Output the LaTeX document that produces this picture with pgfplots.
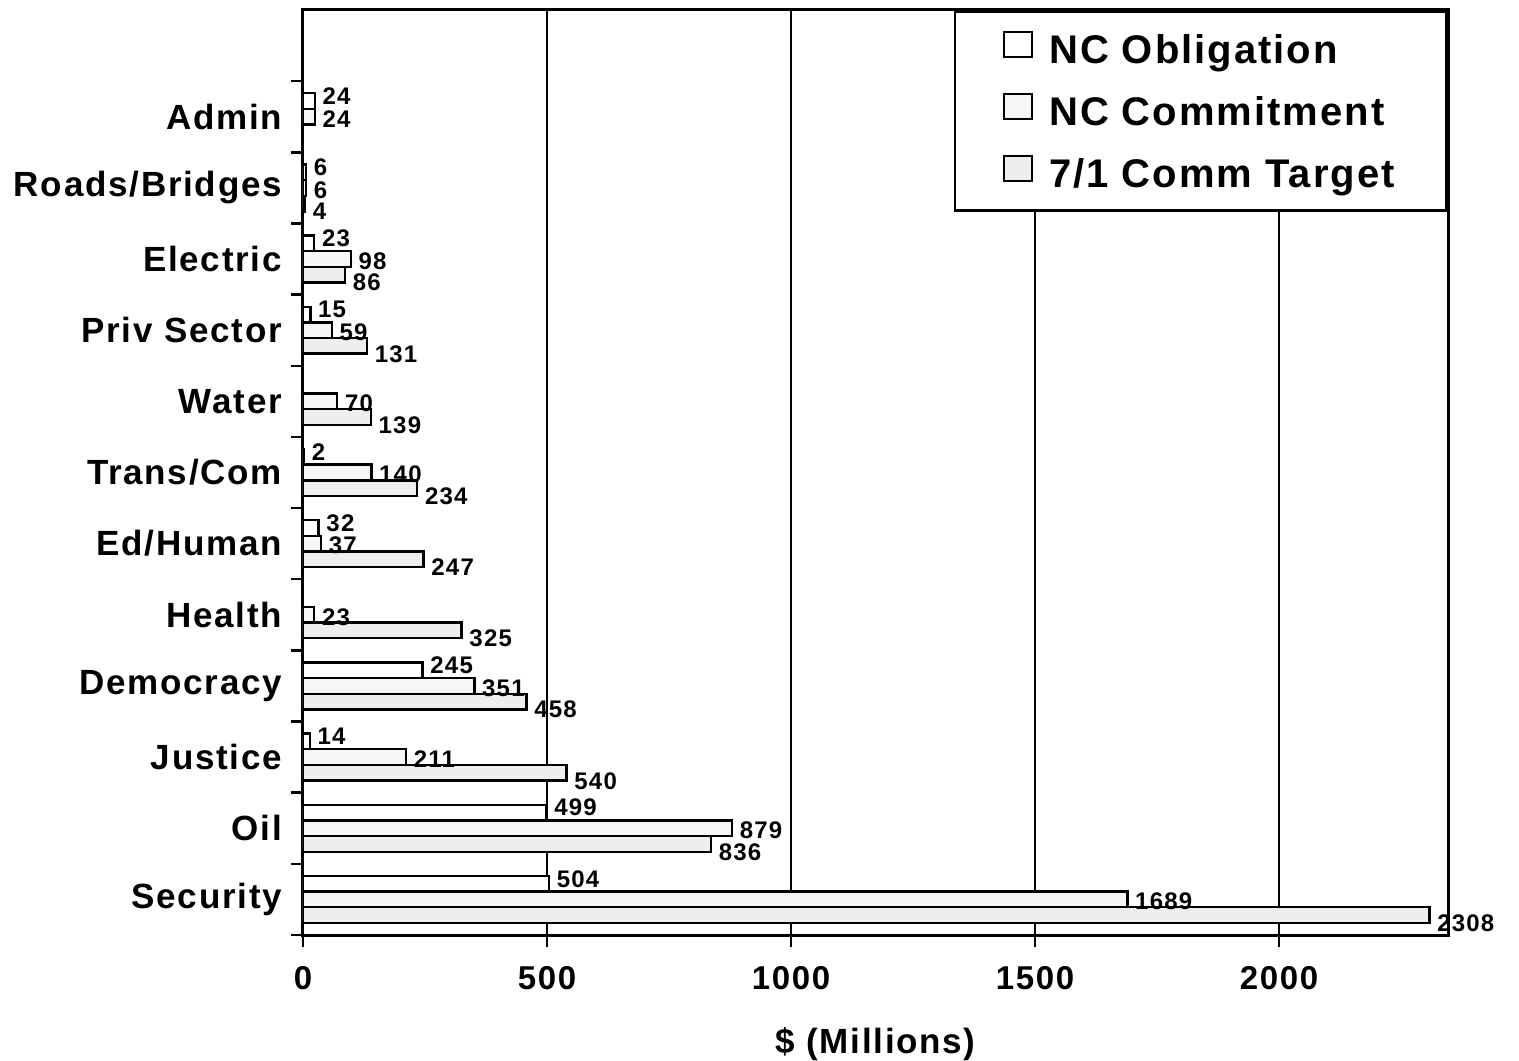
\documentclass[border=0pt]{standalone}
\usepackage{fontspec}
\setmainfont{Liberation Sans}[LetterSpace=5]
\usepackage{pgfplots}
\pgfplotsset{compat=1.18}

\begin{document}
\begin{tikzpicture}
% 1 px of the reference = 0.5pt; axis box from (303,935) to (1448,10) px
\useasboundingbox (-151.5pt,-62.5pt) rectangle (608pt,467.5pt);
\begin{axis}[
    xbar,
    scale only axis,
    width=572.5pt, height=462.5pt,
    xmin=0, xmax=2346,
    ymin=-0.5, ymax=12.5,
    axis line style={line width=1.5pt},
    tick pos=left,
    tick align=outside,
    major tick length=6pt,
    tick style={black, line width=1.2pt},
    xtick={0,500,...,2000},
    xmajorgrids,
    grid style={black, line width=1.3pt},
    /pgf/number format/assume math mode=true,
    /pgf/number format/1000 sep={},
    xticklabel style={font=\fontsize{16.5}{19}\selectfont\bfseries, yshift=-6pt},
    ytick={-0.5,0.5,...,11.5},
    y tick label as interval,
    yticklabels={Security,Oil,Justice,Democracy,Health,Ed/Human,Trans/Com,Water,Priv Sector,Electric,Roads/Bridges,Admin},
    yticklabel style={font=\fontsize{17.5}{20}\selectfont\bfseries, xshift=-1pt},
    xlabel={\$ (Millions)},
    xlabel style={font=\fontsize{17.5}{20}\selectfont\bfseries, yshift=-12pt},
    bar width=0.22,
    nodes near coords,
    every node near coord/.append style={font=\fontsize{12}{14}\selectfont\bfseries, black},
    legend cell align=left,
    legend image code/.code={\draw[#1, line width=1pt] (0pt,-4pt) rectangle (14pt,8.5pt);},
    legend style={at={(1,1)}, anchor=north east, draw=black, line width=1.3pt, fill=white,
        font=\fontsize{20}{24}\selectfont\bfseries, inner xsep=24pt, inner ysep=5pt,
        row sep=3.5pt,
        /tikz/every odd column/.append style={column sep=6pt},
        nodes={inner sep=2pt, text height=19pt, text depth=4.5pt}},
    ]
% NC Obligation (top bar of each group)
\addplot[fill=white, draw=black, line width=1.2pt, bar shift=0.22,
    every node near coord/.append style={yshift=2.5pt}] coordinates {
    (504,0) (499,1) (14,2) (245,3) (32,5) (2,6) (15,8) (23,9) (6,10) (24,11)};
% NC Commitment (middle bar)
\addplot[fill=gray!7, draw=black, line width=1.2pt, bar shift=0,
    every node near coord/.append style={yshift=-1pt}] coordinates {
    (1689,0) (879,1) (211,2) (351,3) (23,4) (37,5) (140,6) (70,7) (59,8) (98,9) (6,10) (24,11)};
% 7/1 Comm Target (bottom bar)
\addplot[fill=gray!13, draw=black, line width=1.2pt, bar shift=-0.22,
    every node near coord/.append style={yshift=-4pt}] coordinates {
    (2308,0) (836,1) (540,2) (458,3) (325,4) (247,5) (234,6) (139,7) (131,8) (86,9) (4,10)};
\legend{NC Obligation, NC Commitment, 7/1 Comm Target}
\end{axis}
\end{tikzpicture}
\end{document}
